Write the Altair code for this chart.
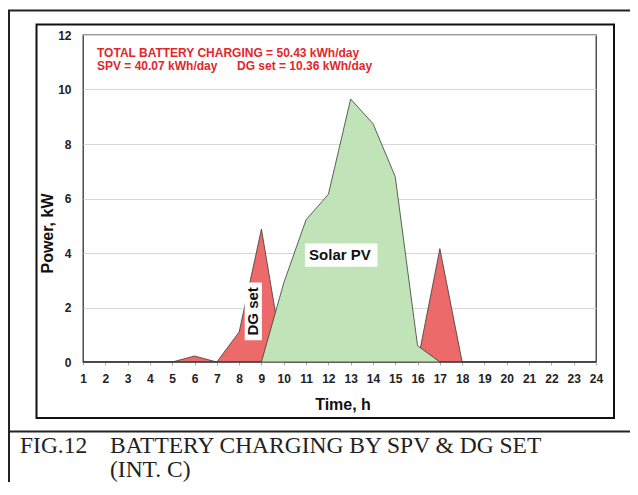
import altair as alt
import pandas as pd

# ---------------- data ----------------
hours = list(range(1, 25))
dg_set = [0, 0, 0, 0, 0, 0.22, 0, 1.1, 4.88, 0, 0, 0,
          0, 0, 0, 0, 4.16, 0, 0, 0, 0, 0, 0, 0]
solar_pv = [0, 0, 0, 0, 0, 0, 0, 0, 0, 2.9, 5.22, 6.15,
            9.65, 8.75, 6.8, 0.6, 0, 0, 0, 0, 0, 0, 0, 0]
x_ticks = list(range(1, 25))
y_ticks = [0, 2, 4, 6, 8, 10, 12]

note_text = ["TOTAL BATTERY CHARGING = 50.43 kWh/day",
             "SPV = 40.07 kWh/day",
             "DG set = 10.36 kWh/day"]
caption_text = ["FIG.12", "BATTERY CHARGING BY SPV & DG SET", "(INT. C)"]

label_text = ["Solar PV", "DG set"]
label_h = [12.52, 8.62]
label_v = [3.93, 1.86]
label_angle = [0, 270]
box_h1 = [10.95, 8.25]
box_h2 = [14.2, 9.02]
box_v1 = [3.5, 0.8]
box_v2 = [4.35, 2.92]

df = pd.DataFrame({"hour": hours, "dg": dg_set, "spv": solar_pv})
labels_df = pd.DataFrame({"text": label_text, "h": label_h, "v": label_v,
                          "angle": label_angle})
boxes_df = pd.DataFrame({"h1": box_h1, "h2": box_h2, "v1": box_v1, "v2": box_v2})
one = pd.DataFrame({"a": [0]})

FONT = "Liberation Sans"
W, H = 513, 327
PL, PT = 75, 27          # plot origin inside svg (page 83, 35)
SVG_W, SVG_H = 622, 474
ox, oy = 83, 35          # page coordinates of plot origin


def px(page_x):
    return page_x - ox


def py(page_y):
    return page_y - oy


x_axis = alt.Axis(values=x_ticks, title="Time, h", grid=False, domain=False,
                  tickSize=3, tickColor="#aaaaaa", labelPadding=8,
                  labelFlush=False, labelOverlap=False,
                  labelFont=FONT, labelFontSize=12, labelFontWeight="bold",
                  labelColor="#222222", titleFont=FONT, titleFontSize=16,
                  titleFontWeight="bold", titleColor="#111111",
                  titleX=W / 2 + 3, titleY=42, titleBaseline="middle",
                  titleAlign="center")
y_axis = alt.Axis(values=y_ticks, title="Power, kW", grid=True,
                  gridColor="#d6d6d6", gridWidth=1, domain=False,
                  ticks=True, tickSize=0, labelPadding=12,
                  labelFlush=False,
                  labelFont=FONT, labelFontSize=12, labelFontWeight="bold",
                  labelColor="#222222", titleFont=FONT, titleFontSize=16,
                  titleFontWeight="bold", titleColor="#111111",
                  titleX=-36, titleY=198, titleAngle=270,
                  titleBaseline="middle", titleAlign="center")
xs = alt.Scale(domain=[1, 24], nice=False, zero=False)
ys = alt.Scale(domain=[0, 12], nice=False)


def X(field):
    return alt.X(field, type="quantitative", scale=xs, axis=x_axis)


def Y(field):
    return alt.Y(field, type="quantitative", scale=ys, axis=y_axis)


dg_area = alt.Chart(df).mark_area(
    fill="#ec6a6a", stroke="#3a3a3a", strokeWidth=0.8, opacity=1
).encode(x=X("hour"), y=Y("dg"))

spv_area = alt.Chart(df).mark_area(
    fill="#c0e4b8", stroke="#3a3a3a", strokeWidth=0.8, opacity=1
).encode(x=X("hour"), y=Y("spv"))

boxes = alt.Chart(boxes_df).mark_rect(fill="white").encode(
    x=X("h1"), x2="h2", y=Y("v1"), y2="v2")

labels = alt.Chart(labels_df).mark_text(
    font=FONT, fontSize=15, fontWeight="bold", color="#111111",
    align="center", baseline="middle"
).encode(x=X("h"), y=Y("v"), text="text:N", angle=alt.Angle("angle:Q", scale=None))

RED = "#e3262b"
note1 = alt.Chart(one).mark_text(
    text=note_text[0], font=FONT, fontSize=12, fontWeight="bold", color=RED,
    align="left", baseline="alphabetic"
).encode(x=alt.value(px(97)), y=alt.value(py(56.5)))
note2 = alt.Chart(one).mark_text(
    text=note_text[1], font=FONT, fontSize=12, fontWeight="bold", color=RED,
    align="left", baseline="alphabetic"
).encode(x=alt.value(px(97)), y=alt.value(py(69.5)))
note3 = alt.Chart(one).mark_text(
    text=note_text[2], font=FONT, fontSize=12, fontWeight="bold", color=RED,
    align="left", baseline="alphabetic"
).encode(x=alt.value(px(237)), y=alt.value(py(69.5)))

SERIF = "Liberation Serif"
cap1 = alt.Chart(one).mark_text(
    text=caption_text[0], font=SERIF, fontSize=23.5, color="#231f20",
    align="left", baseline="alphabetic"
).encode(x=alt.value(px(20)), y=alt.value(py(453)))
cap2 = alt.Chart(one).mark_text(
    text=caption_text[1], font=SERIF, fontSize=23.5, color="#231f20",
    align="left", baseline="alphabetic"
).encode(x=alt.value(px(110)), y=alt.value(py(453)))
cap3 = alt.Chart(one).mark_text(
    text=caption_text[2], font=SERIF, fontSize=23.5, color="#231f20",
    align="left", baseline="alphabetic"
).encode(x=alt.value(px(110)), y=alt.value(py(477)))

# frames
outer_left = alt.Chart(one).mark_rule(color="#222222", strokeWidth=2).encode(
    x=alt.value(px(9)), y=alt.value(py(10)), y2=alt.value(py(500)))
outer_top = alt.Chart(one).mark_rule(color="#222222", strokeWidth=2).encode(
    x=alt.value(px(8)), x2=alt.value(px(645)), y=alt.value(py(10.5)))
separator = alt.Chart(one).mark_rule(color="#222222", strokeWidth=2).encode(
    x=alt.value(px(8)), x2=alt.value(px(645)), y=alt.value(py(431.5)))
inner = alt.Chart(one).mark_rect(filled=False, stroke="#111111", strokeWidth=2).encode(
    x=alt.value(px(36.5)), x2=alt.value(px(614)),
    y=alt.value(py(24.5)), y2=alt.value(py(418)))

chart = alt.layer(
    dg_area, spv_area, boxes, labels, note1, note2, note3,
    outer_left, outer_top, separator, inner, cap1, cap2, cap3
).properties(
    width=W, height=H,
    autosize=alt.AutoSizeParams(type="none"),
    padding={"left": PL, "top": PT, "right": SVG_W - PL - W,
             "bottom": SVG_H - PT - H},
    background="white",
).configure_view(stroke="#333333", strokeWidth=1.3)

chart.save("out.html", embed_options={"renderer": "svg", "actions": False})
